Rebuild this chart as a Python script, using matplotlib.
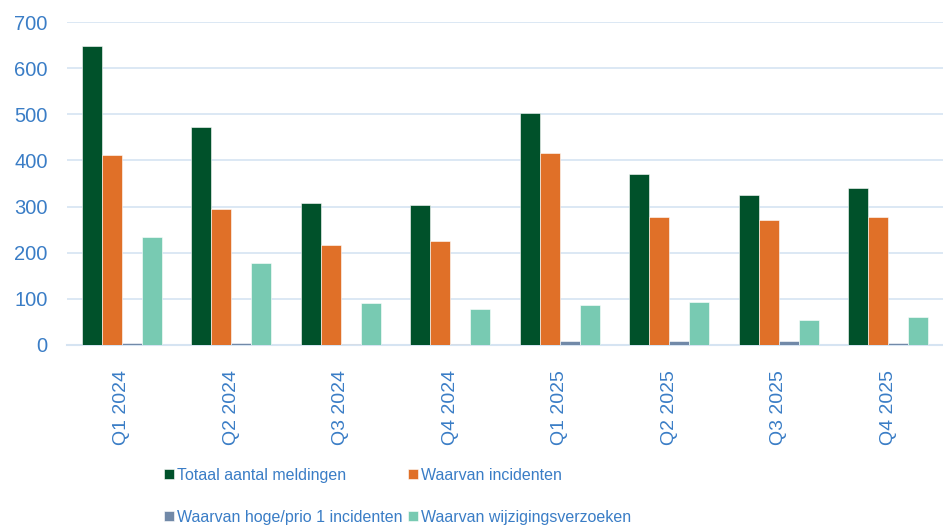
import matplotlib.pyplot as plt
import numpy as np

plt.rcParams['font.family'] = ['Liberation Sans', 'DejaVu Sans']

quarters = ["Q1 2024", "Q2 2024", "Q3 2024", "Q4 2024",
            "Q1 2025", "Q2 2025", "Q3 2025", "Q4 2025"]
totaal = [648, 472, 308, 303, 503, 371, 325, 340]
incidenten = [412, 295, 217, 225, 416, 277, 271, 277]
prio1 = [5, 4, 2, 3, 8, 8, 8, 4]
wijzigingen = [234, 178, 91, 78, 87, 93, 54, 61]

series = [
    ("Totaal aantal meldingen", totaal, "#00512A"),
    ("Waarvan incidenten", incidenten, "#E07028"),
    ("Waarvan hoge/prio 1 incidenten", prio1, "#7189A8"),
    ("Waarvan wijzigingsverzoeken", wijzigingen, "#78CAB2"),
]

text_col = "#3A7DC6"
grid_col = "#D6E4F2"

fig = plt.figure(figsize=(9.43, 5.27), dpi=100)
ax = fig.add_axes([0.071, 0.3454, 0.929, 0.6126])

x = np.arange(len(quarters))
w = 0.1826
handles = []
for i, (label, vals, col) in enumerate(series):
    b = ax.bar(x + (i - 1.5) * w, vals, width=w, color=col, label=label,
               edgecolor="white", linewidth=0.4, zorder=3)
    handles.append(b)

ax.set_xlim(-0.5, len(quarters) - 0.5)
ax.set_ylim(0, 700)
ax.set_yticks(range(0, 701, 100))
ax.yaxis.grid(True, color=grid_col, linewidth=1.2, zorder=0)
ax.set_xticks(x)
ax.set_xticklabels(quarters, rotation=90)
ax.tick_params(axis="x", length=0, pad=18, labelsize=14, labelcolor=text_col)
ax.tick_params(axis="y", length=0, pad=14, labelsize=14.5, labelcolor=text_col)
for s in ["top", "right", "left"]:
    ax.spines[s].set_visible(False)
ax.spines["bottom"].set_color(grid_col)
ax.spines["bottom"].set_linewidth(1.5)

# legend is filled row by row in the reference
order = [0, 2, 1, 3]
leg = fig.legend([handles[i] for i in order], [series[i][0] for i in order],
                 loc="upper center", bbox_to_anchor=(0.4215, 0.14), ncol=2,
                 frameon=False, fontsize=11.5, handlelength=0.65, handleheight=0.65,
                 handletextpad=0.2, columnspacing=0.3, labelspacing=1.7)
for t in leg.get_texts():
    t.set_color(text_col)

fig.savefig("out.png", dpi=100)
